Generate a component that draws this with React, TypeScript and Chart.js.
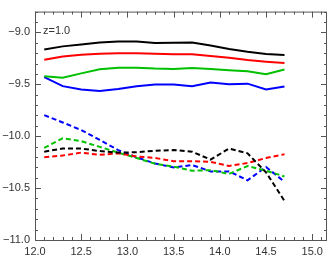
import { useEffect, useRef } from 'react';
import { Chart, registerables } from 'chart.js';

Chart.register(...registerables);

const xValues = [12.1, 12.3, 12.5, 12.7, 12.9, 13.1, 13.3, 13.5, 13.7, 13.9, 14.1, 14.3, 14.5, 14.7];

const solidBlack = [-9.165, -9.135, -9.117, -9.098, -9.089, -9.089, -9.102, -9.101, -9.098, -9.126, -9.16, -9.187, -9.209, -9.218];
const solidRed = [-9.264, -9.233, -9.215, -9.206, -9.202, -9.2, -9.206, -9.211, -9.211, -9.227, -9.245, -9.267, -9.282, -9.294];
const solidGreen = [-9.423, -9.436, -9.395, -9.356, -9.34, -9.34, -9.349, -9.353, -9.344, -9.353, -9.365, -9.374, -9.404, -9.358];
const solidBlue = [-9.432, -9.518, -9.551, -9.564, -9.546, -9.518, -9.503, -9.503, -9.518, -9.482, -9.5, -9.494, -9.551, -9.521];

const dashedBlack = [-10.149, -10.119, -10.119, -10.143, -10.158, -10.155, -10.14, -10.134, -10.149, -10.226, -10.119, -10.165, -10.348, -10.624];
const dashedRed = [-10.204, -10.186, -10.158, -10.18, -10.165, -10.195, -10.21, -10.241, -10.241, -10.247, -10.287, -10.259, -10.21, -10.174];
const dashedGreen = [-10.112, -10.02, -10.048, -10.103, -10.158, -10.21, -10.266, -10.293, -10.333, -10.327, -10.364, -10.287, -10.333, -10.388];
const dashedBlue = [-9.797, -9.868, -9.941, -10.036, -10.134, -10.204, -10.263, -10.301, -10.278, -10.339, -10.339, -10.425, -10.296, -10.44];

const xTickLabels = [12.0, 12.5, 13.0, 13.5, 14.0, 14.5, 15.0];
const yTickLabels = [-11.0, -10.5, -10.0, -9.5, -9.0];
const annotation = 'z=1.0';

const X_MIN = 12.0;
const X_MAX = 15.16;
const Y_MIN = -11.0;
const Y_MAX = -8.8;

const fmt = (v: number) => v.toFixed(1).replace('-', '\u2212');

const toPoints = (ys: number[]) => xValues.map((x, i) => ({ x, y: ys[i] }));

const framePlugin = {
  id: 'framePlugin',
  afterDraw(chart: any) {
    const { ctx, chartArea: a, scales } = chart;
    ctx.save();
    ctx.strokeStyle = '#555';
    ctx.lineWidth = 1;
    ctx.strokeRect(a.left + 0.5, a.top + 0.5, a.right - a.left - 1, a.bottom - a.top);
    ctx.beginPath();
    for (let i = Math.round(X_MIN * 10); i <= Math.floor(X_MAX * 10); i++) {
      const v = i / 10;
      const major = i % 5 === 0;
      const len = major ? 6 : 3;
      const px = Math.round(scales.x.getPixelForValue(v)) + 0.5;
      ctx.moveTo(px, a.bottom);
      ctx.lineTo(px, a.bottom - len);
      ctx.moveTo(px, a.top);
      ctx.lineTo(px, a.top + len);
    }
    for (let i = Math.round(Y_MIN * 10); i <= Math.round(Y_MAX * 10); i++) {
      const v = i / 10;
      const major = i % 5 === 0;
      const len = major ? 6 : 3;
      const py = Math.round(scales.y.getPixelForValue(v)) + 0.5;
      ctx.moveTo(a.left, py);
      ctx.lineTo(a.left + len, py);
      ctx.moveTo(a.right, py);
      ctx.lineTo(a.right - len, py);
    }
    ctx.stroke();
    ctx.fillStyle = '#333';
    ctx.font = '11px "Liberation Sans", Arial, sans-serif';
    ctx.textBaseline = 'alphabetic';
    ctx.textAlign = 'left';
    ctx.fillText(annotation, a.left + 8, a.top + 22);
    ctx.restore();
  },
};

export default function App() {
  const ref = useRef<HTMLCanvasElement | null>(null);

  useEffect(() => {
    document.body.style.margin = '0';
    const canvas = ref.current;
    if (!canvas) return;
    const solid = (ys: number[], color: string) => ({
      data: toPoints(ys),
      borderColor: color,
      backgroundColor: color,
      borderWidth: 2,
      pointRadius: 0,
      tension: 0,
      fill: false,
    });
    const dashed = (ys: number[], color: string) => ({
      ...solid(ys, color),
      borderDash: [5, 3],
    });
    const chart = new Chart(canvas, {
      type: 'line',
      data: {
        datasets: [
          solid(solidBlack, '#000000'),
          solid(solidRed, '#ff0000'),
          solid(solidGreen, '#00c000'),
          solid(solidBlue, '#0000ff'),
          dashed(dashedBlack, '#000000'),
          dashed(dashedRed, '#ff0000'),
          dashed(dashedGreen, '#00c000'),
          dashed(dashedBlue, '#0000ff'),
        ],
      },
      options: {
        animation: false,
        responsive: false,
        devicePixelRatio: 1,
        layout: { padding: { top: 1, right: 4, left: 0, bottom: 0 } },
        plugins: { legend: { display: false }, tooltip: { enabled: false }, title: { display: false } },
        scales: {
          x: {
            type: 'linear',
            min: X_MIN,
            max: X_MAX,
            border: { display: false },
            grid: { display: false, drawTicks: false },
            afterBuildTicks: (s: any) => {
              s.ticks = xTickLabels.map((v) => ({ value: v }));
            },
            afterFit: (s: any) => {
              s.height = 18;
            },
            ticks: {
              padding: 5,
              maxRotation: 0,
              autoSkip: false,
              color: '#333',
              font: { family: '"Liberation Sans", Arial, sans-serif', size: 11 },
              callback: (v: any) => fmt(Number(v)),
            },
          },
          y: {
            type: 'linear',
            min: Y_MIN,
            max: Y_MAX,
            border: { display: false },
            grid: { display: false, drawTicks: false },
            afterBuildTicks: (s: any) => {
              s.ticks = yTickLabels.map((v) => ({ value: v }));
            },
            afterFit: (s: any) => {
              s.width = 35;
            },
            ticks: {
              padding: 5,
              autoSkip: false,
              color: '#333',
              font: { family: '"Liberation Sans", Arial, sans-serif', size: 11 },
              callback: (v: any) => fmt(Number(v)),
            },
          },
        },
      },
      plugins: [framePlugin],
    } as any);
    return () => chart.destroy();
  }, []);

  return <canvas ref={ref} width={331} height={258} style={{ display: 'block' }} />;
}
